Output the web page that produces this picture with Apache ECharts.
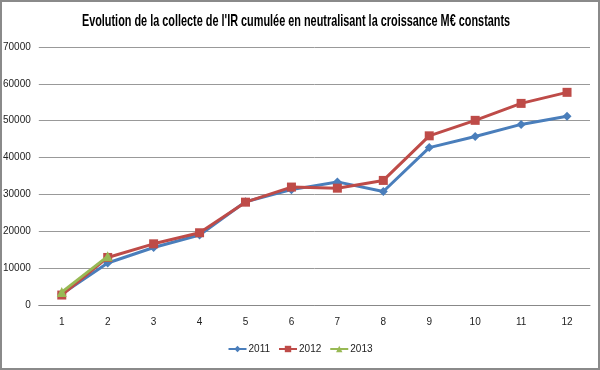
<!DOCTYPE html>
<html><head><meta charset="utf-8">
<script src="https://cdn.jsdelivr.net/npm/echarts@6/dist/echarts.min.js"></script>
<style>
html,body{margin:0;padding:0;background:#fff;}
#frame{position:absolute;left:0;top:0;width:596px;height:366px;border:2px solid #8a8a8a;}
#c{position:absolute;left:0;top:0;width:600px;height:370px;}
</style></head><body>
<div id="c"></div><div id="frame"></div>
<script>
const categories = ['1','2','3','4','5','6','7','8','9','10','11','12'];
const s2011 = [3000, 11400, 15600, 19000, 28000, 31300, 33400, 30800, 42700, 45700, 49000, 51200];
const s2012 = [2700, 12900, 16600, 19600, 27900, 32000, 31700, 33800, 45900, 50100, 54700, 57700];
const s2013 = [3500, 13200];
const titleText = "Evolution de la collecte de l'IR cumulée en neutralisant la croissance M€ constants";

const chart = echarts.init(document.getElementById('c'));
const mk = (name, data, color, symbol, size) => ({
  name, type:'line', data, symbol, symbolSize:size,
  lineStyle:{color, width:3}, itemStyle:{color},
  animation:false, z: name==='2013'?3:(name==='2012'?2:1)
});
const lblFont = {color:'#222', fontSize:10, fontFamily:'Liberation Sans, sans-serif'};
chart.setOption({
  animation:false,
  graphic:[{type:'text', x:296, y:21, scaleX:0.64, silent:true,
    style:{text:titleText, textAlign:'center', textVerticalAlign:'middle',
      font:'bold 17px "Liberation Sans", sans-serif', fill:'#000'}}],
  grid:{left:36, right:10, top:47, bottom:65, containLabel:false},
  xAxis:{type:'category', data:categories, boundaryGap:true,
    axisLine:{lineStyle:{color:'#888', width:1}}, axisTick:{show:false},
    axisLabel:Object.assign({margin:12}, lblFont)},
  yAxis:{type:'value', min:0, max:70000, interval:10000,
    axisLine:{show:false}, axisTick:{show:false},
    splitLine:{lineStyle:{color:'#999', width:1}},
    axisLabel:Object.assign({margin:8, formatter:v=>String(v)}, lblFont)},
  legend:{bottom:11, left:'center', itemWidth:18, itemHeight:8, itemGap:8,
    textStyle:{fontSize:10, color:'#222', fontFamily:'Liberation Sans, sans-serif', padding:[0,0,0,-3]},
    data:['2011','2012','2013']},
  series:[
    mk('2011', s2011, '#4a7ebb', 'diamond', 9),
    mk('2012', s2012, '#be4b48', 'rect', 9),
    mk('2013', s2013, '#98b954', 'triangle', 10)
  ]
});
</script></body></html>
